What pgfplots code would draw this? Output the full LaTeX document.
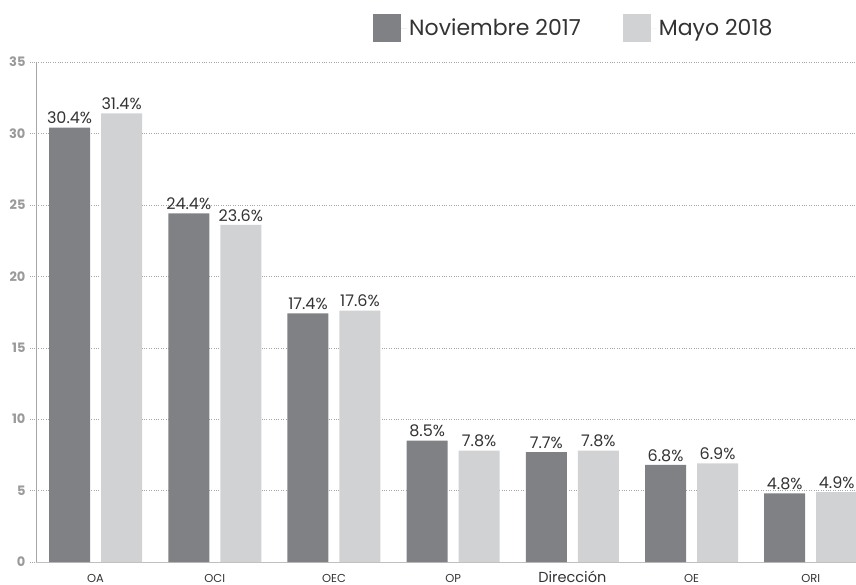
\documentclass[border=0pt]{standalone}
\usepackage{fontspec}
\setmainfont{Poppins}
\usepackage{pgfplots}
\pgfplotsset{compat=1.18}
\definecolor{novgray}{HTML}{808184}
\definecolor{maygray}{HTML}{D1D2D4}
\definecolor{ticktext}{HTML}{9A9A9A}
\definecolor{labeltext}{HTML}{333333}

\begin{document}
\begin{tikzpicture}
\useasboundingbox (-36pt,-22pt) rectangle (820pt,562pt);
\begin{axis}[
    scale only axis,
    width=820pt,
    height=500pt,
    ybar=11pt,
    bar width=41pt,
    xmin=-0.5, xmax=6.38,
    ymin=0, ymax=35,
    xtick={0,1,2,3,4,5,6},
    xticklabels={
        {\fontsize{11.5}{13}\selectfont OA},
        {\fontsize{11.5}{13}\selectfont OCI},
        {\fontsize{11.5}{13}\selectfont OEC},
        {\fontsize{11.5}{13}\selectfont OP},
        {\fontsize{14.5}{16}\selectfont Dirección},
        {\fontsize{11.5}{13}\selectfont OE},
        {\fontsize{11.5}{13}\selectfont ORI}},
    ytick={0,5,...,35},
    axis x line=bottom,
    axis y line=left,
    axis line style={draw=gray!70, -},
    x axis line style={draw=gray!50},
    xtick style={draw=none},
    ytick style={draw=gray!70, dotted},
    tick align=outside,
    major tick length=6pt,
    ymajorgrids,
    grid style={draw=gray!70, dotted},
    yticklabel style={font=\fontsize{13}{15}\selectfont\bfseries, text=ticktext, xshift=-1pt},
    xticklabel style={text=labeltext, anchor=base, inner sep=0pt, yshift=-14pt},
    /pgf/number format/assume math mode=true,
    nodes near coords={\pgfmathprintnumber[fixed,fixed zerofill,precision=1]{\pgfplotspointmeta}\%},
    every node near coord/.append style={font=\fontsize{16}{18}\selectfont, text=labeltext},
    legend columns=2,
    legend style={
        at={(0.411,1.068)}, anchor=west,
        draw=none, inner sep=0pt,
        font=\fontsize{22}{25}\selectfont,
        text=labeltext,
        /tikz/every even column/.append style={column sep=40pt}
    },
    legend cell align=left,
    legend image code/.code={\fill[#1] (0pt,-14pt) rectangle (28pt,14pt);\path (0pt,0pt) -- (34pt,0pt);},
]
\addplot[fill=novgray, draw=none] coordinates {
    (0,30.4) (1,24.4) (2,17.4) (3,8.5) (4,7.7) (5,6.8) (6,4.8)
};
\addplot[fill=maygray, draw=none] coordinates {
    (0,31.4) (1,23.6) (2,17.6) (3,7.8) (4,7.8) (5,6.9) (6,4.9)
};
\legend{Noviembre 2017, Mayo 2018}
\end{axis}
\end{tikzpicture}
\end{document}
